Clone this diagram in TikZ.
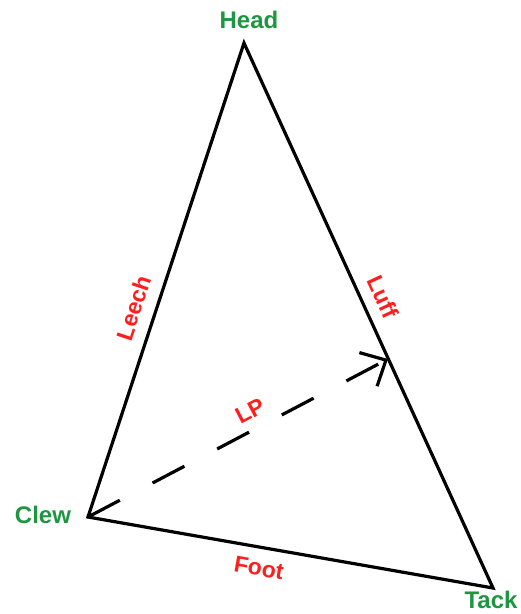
\documentclass[tikz,border=0pt]{standalone}
\usepackage{fontspec}
\setmainfont{Liberation Sans}
\usetikzlibrary{arrows.meta}
\definecolor{lblgreen}{RGB}{30,150,65}
\definecolor{lblred}{RGB}{255,30,30}
\begin{document}
\begin{tikzpicture}[x=1pt,y=-1pt,
  side/.style={line width=3.2pt, line join=miter, black},
  corner/.style={font=\fontsize{24}{27}\selectfont\bfseries, text=lblgreen, inner sep=0pt},
  edgelbl/.style={font=\fontsize{23}{26}\selectfont\bfseries, text=lblred, inner sep=0pt},
  lparrow/.style={line width=3.2pt, dash pattern=on 36pt off 37pt, -{Straight Barb[length=20pt,width=38pt]}}]
\useasboundingbox (0,0) rectangle (521,614);
\coordinate (head) at (244,43);
\coordinate (clew) at (88,517);
\coordinate (tack) at (493,588);
\coordinate (lp) at (388,359);
\draw[side] (head) -- (tack) -- (clew) -- cycle;
\draw[lparrow] (clew) -- (lp);
\node[corner] (headlbl) at (249,20) {Head};
\node[corner] (clewlbl) at (43,515) {Clew};
\node[corner] (tacklbl) at (491,600) {Tack};
\node[edgelbl, rotate=71.7] (leech) at (134,308) {Leech};
\node[edgelbl, rotate=-65.2] (luff) at (383,297) {Luff};
\node[edgelbl, rotate=27.7] (lplbl) at (250,411) {LP};
\node[edgelbl, rotate=-9.9] (foot) at (259,568) {Foot};
\end{tikzpicture}
\end{document}
